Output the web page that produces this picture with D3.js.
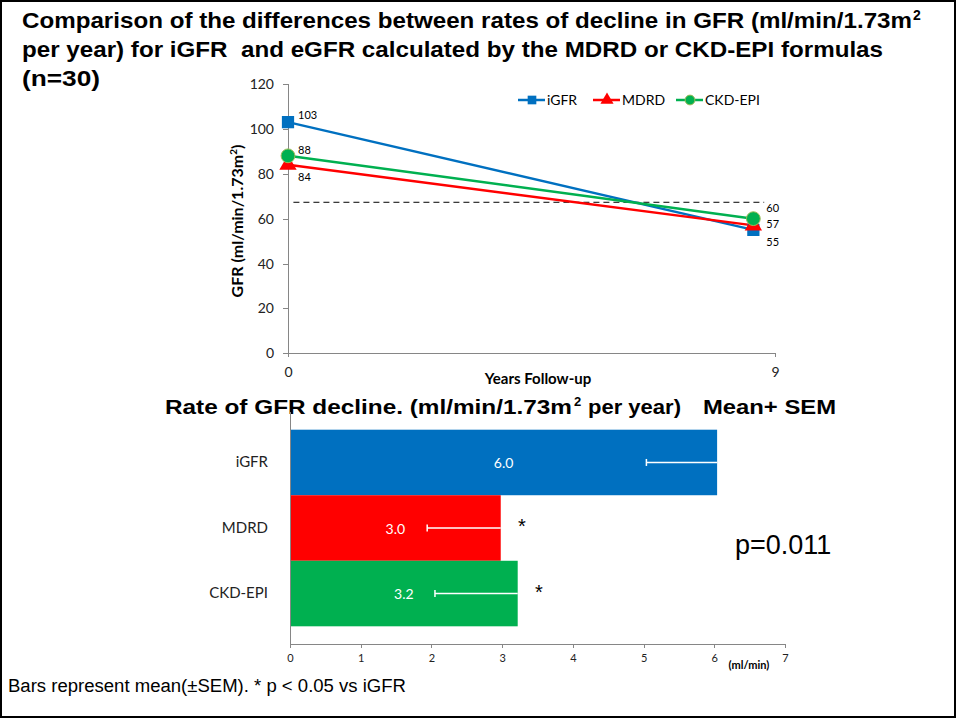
<!DOCTYPE html>
<html lang="en">
	<head>
		<meta charset="UTF-8">
		<title>GFR decline</title>
		<style>
			body{margin:0;background:#fff;}
			svg{display:block;}
			.axis path,.axis line{fill:none;stroke:#868686;shape-rendering:crispEdges;}
			.axis text{font-family:Lato,"Noto Sans",sans-serif;fill:#222;}
			.ttl{font-family:"Liberation Sans",Arial,sans-serif;font-weight:bold;fill:#000;}
		</style>
	</head>
	<body>
	<script src="https://cdn.jsdelivr.net/npm/d3@7"></script>
	<script>
		// line chart data
		var years = [0, 8.6];
		var seriesNames = ["iGFR", "MDRD", "CKD-EPI"];
		var iGFR = [103, 55];
		var mdrd = [84, 57];
		var ckdEpi = [88, 60];
		var gfrTicks = [0, 20, 40, 60, 80, 100, 120];
		var yearTicks = [0, 9];
		var threshold = 67.3;

		// bar chart data
		var rateCats = ["iGFR", "MDRD", "CKD-EPI"];
		var rateMean = [6.04, 2.98, 3.22];
		var rateSem = [1.0, 1.04, 1.17];
		var rateStar = [false, true, true];
		var rateTicks = [0, 1, 2, 3, 4, 5, 6, 7];

		var colors = ["#0070C0", "#FF0000", "#00B050"];
		var shapes = [d3.symbolSquare, d3.symbolTriangle, d3.symbolCircle];

		var W = 957, H = 720;
		var svg = d3.select("body").append("svg").attr("width", W).attr("height", H);

		// frame
		svg.append("rect").attr("x", 1).attr("y", 1).attr("width", W - 3).attr("height", H - 4)
			.attr("fill", "none").attr("stroke", "#000").attr("stroke-width", 2);

		// title (squeezed to the widths of the reference)
		var titleLines = [
			{t: "Comparison of the differences between rates of decline in GFR (ml/min/1.73m", sup: "2", y: 28, w: 890},
			{t: "per year) for iGFR  and eGFR calculated by the MDRD or CKD-EPI formulas", y: 57, w: 861},
			{t: "(n=30)", y: 86, w: 78}
		];
		titleLines.forEach(function(l){
			svg.append("text").attr("class", "ttl").attr("x", 22).attr("y", l.y)
				.style("font-size", "22px").style("white-space", "pre")
				.attr("textLength", l.w).attr("lengthAdjust", "spacingAndGlyphs").text(l.t);
			if(l.sup){
				svg.append("text").attr("class", "ttl").attr("x", 22 + l.w + 1).attr("y", l.y - 8)
					.style("font-size", "14px").text(l.sup);
			}
		});

		// ---------- line chart ----------
		var lx = d3.scaleLinear().domain([0, 9]).range([288, 775]);
		var ly = d3.scaleLinear().domain([0, 120]).range([353.3, 84]);

		svg.append("g").attr("class", "axis")
			.attr("transform", "translate(288,0)")
			.call(d3.axisLeft(ly).tickValues(gfrTicks).tickSize(5).tickPadding(9))
			.selectAll("text").style("font-size", "14px");
		svg.append("g").attr("class", "axis")
			.attr("transform", "translate(0,353.3)")
			.call(d3.axisBottom(lx).tickValues(yearTicks).tickSize(4).tickPadding(10))
			.selectAll("text").style("font-size", "14px");

		svg.append("text").attr("x", 538).attr("y", 384)
			.attr("text-anchor", "middle")
			.style("font-family", "Lato,sans-serif").style("font-weight", "bold").style("font-size", "15px")
			.text("Years Follow-up");

		var yl = svg.append("text")
			.attr("transform", "translate(243,221) rotate(-90)")
			.attr("text-anchor", "middle")
			.style("font-family", "Lato,sans-serif").style("font-weight", "bold").style("font-size", "16px");
		yl.append("tspan").text("GFR (ml/min/1.73m");
		yl.append("tspan").attr("dy", -6).style("font-size", "10px").text("2");
		yl.append("tspan").attr("dy", 6).text(")");

		// reference line
		svg.append("line")
			.attr("x1", lx(0.1)).attr("x2", lx(8.8))
			.attr("y1", ly(threshold)).attr("y2", ly(threshold))
			.attr("stroke", "#000").attr("stroke-width", 1).attr("stroke-dasharray", "6,4");

		var seriesData = [iGFR, mdrd, ckdEpi];
		var lineGen = d3.line().x(function(d, i){ return lx(years[i]); }).y(function(d){ return ly(d); });
		var markerSizes = [150, 130, 150];

		seriesData.forEach(function(vals, s){
			svg.append("path").datum(vals)
				.attr("d", lineGen).attr("fill", "none")
				.attr("stroke", colors[s]).attr("stroke-width", 2.5);
		});
		seriesData.forEach(function(vals, s){
			svg.selectAll(null).data(vals).enter().append("path")
				.attr("transform", function(d, i){ return "translate(" + lx(years[i]) + "," + ly(d) + ")"; })
				.attr("d", d3.symbol().type(shapes[s]).size(markerSizes[s]))
				.attr("fill", colors[s])
				.attr("stroke", s == 2 ? "#9BBB59" : "none").attr("stroke-width", 1);
		});

		// data labels
		var lblOffset = [
			[[10, -7], [13, 12]],
			[[10, 12], [13, -1]],
			[[10, -6], [13, -11]]
		];
		seriesData.forEach(function(vals, s){
			vals.forEach(function(v, i){
				svg.append("text")
					.attr("x", lx(years[i]) + lblOffset[s][i][0])
					.attr("y", ly(v) + lblOffset[s][i][1])
					.attr("dy", "0.35em")
					.style("font-family", "Lato,sans-serif").style("font-size", "11px")
					.text(v);
			});
		});

		// legend
		var legX = [518, 593, 676];
		seriesNames.forEach(function(n, s){
			var g = svg.append("g").attr("transform", "translate(" + legX[s] + ",100)");
			g.append("line").attr("x1", 0).attr("x2", 27).attr("stroke", colors[s]).attr("stroke-width", 2.5);
			g.append("path").attr("transform", "translate(14,0)")
				.attr("d", d3.symbol().type(shapes[s]).size(75))
				.attr("fill", colors[s]).attr("stroke", s == 2 ? "#9BBB59" : "none");
			g.append("text").attr("x", 29).attr("dy", "0.35em")
				.style("font-family", "Lato,sans-serif").style("font-size", "14px").text(n);
		});

		// ---------- bar chart ----------
		var subParts = [
			{t: "Rate of GFR decline. (ml/min/1.73m", x: 165, w: 407, fs: 20, dy: 0},
			{t: "2", x: 574, fs: 13, dy: -8},
			{t: "per year)", x: 588, w: 93, fs: 20, dy: 0},
			{t: "Mean+ SEM", x: 703, w: 133, fs: 20, dy: 0}
		];
		subParts.forEach(function(p){
			var t = svg.append("text").attr("class", "ttl").attr("x", p.x).attr("y", 414 + p.dy)
				.style("font-size", p.fs + "px").text(p.t);
			if(p.w) t.attr("textLength", p.w).attr("lengthAdjust", "spacingAndGlyphs");
		});

		var bx = d3.scaleLinear().domain([0, 7]).range([290, 785]);
		var by = d3.scaleBand().domain(rateCats).range([412, 644]).paddingInner(0).paddingOuter(0.27);

		var bars = svg.append("g");
		bars.selectAll("rect").data(rateMean).enter().append("rect")
			.attr("x", bx(0))
			.attr("y", function(d, i){ return by(rateCats[i]); })
			.attr("width", function(d){ return bx(d) - bx(0); })
			.attr("height", by.bandwidth())
			.attr("fill", function(d, i){ return colors[i]; });

		// error bars (drawn towards zero)
		rateMean.forEach(function(m, i){
			var cy = by(rateCats[i]) + by.bandwidth() / 2;
			svg.append("line").attr("x1", bx(m)).attr("x2", bx(m - rateSem[i]))
				.attr("y1", cy).attr("y2", cy).attr("stroke", "#fff").attr("stroke-width", 1.5);
			svg.append("line").attr("x1", bx(m - rateSem[i])).attr("x2", bx(m - rateSem[i]))
				.attr("y1", cy - 3.5).attr("y2", cy + 3.5).attr("stroke", "#fff").attr("stroke-width", 1.5);
			svg.append("text").attr("x", (bx(0) + bx(m)) / 2).attr("y", cy + 1)
				.attr("dy", "0.35em").attr("text-anchor", "middle")
				.style("font-family", "Lato,sans-serif").style("font-size", "14px").style("fill", "#fff")
				.text(m.toFixed(1));
			if(rateStar[i]){
				svg.append("text").attr("x", bx(m + 0.3)).attr("y", cy + 5)
					.attr("text-anchor", "middle")
					.style("font-family", "'Liberation Sans',Arial,sans-serif").style("font-size", "20px")
					.text("*");
			}
		});

		var yAx = svg.append("g").attr("class", "axis").attr("transform", "translate(290,0)")
			.call(d3.axisLeft(by).tickSize(0).tickPadding(22));
		yAx.select(".domain").attr("d", "M0,412V644");
		yAx.selectAll("text").style("font-size", "15px");

		svg.append("g").attr("class", "axis").attr("transform", "translate(0,644)")
			.call(d3.axisBottom(bx).tickValues(rateTicks).tickFormat(d3.format("d")).tickSize(4).tickPadding(6).tickSizeOuter(4))
			.selectAll("text").style("font-size", "11px");

		svg.append("text").attr("x", 749).attr("y", 669).attr("text-anchor", "middle")
			.style("font-family", "Lato,sans-serif").style("font-weight", "bold").style("font-size", "11px")
			.text("(ml/min)");

		svg.append("text").attr("x", 735).attr("y", 554)
			.style("font-family", "'Liberation Sans',Arial,sans-serif").style("font-size", "27px")
			.text("p=0.011");

		svg.append("text").attr("x", 8).attr("y", 692)
			.style("font-family", "'Liberation Sans',Arial,sans-serif").style("font-size", "18px")
			.attr("textLength", 398).attr("lengthAdjust", "spacingAndGlyphs")
			.text("Bars represent mean(\u00B1SEM). * p < 0.05 vs iGFR");
	</script>
	</body>
</html>
